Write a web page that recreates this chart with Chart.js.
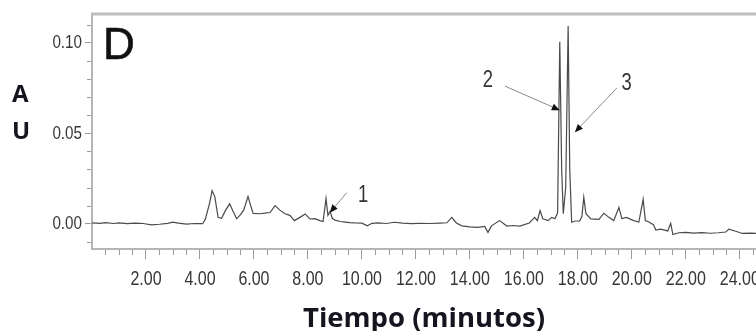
<!DOCTYPE html>
<html><head><meta charset="utf-8">
<script src="https://cdn.jsdelivr.net/npm/chart.js@4.4.1/dist/chart.umd.min.js"></script>
<style>
html,body{margin:0;padding:0;background:#fff;overflow:hidden;width:756px;height:331px;}
#wrap{position:relative;width:780px;height:331px;}
canvas{position:absolute;left:0;top:0;}
.lbl{position:absolute;font-family:"Open Sans",sans-serif;font-weight:700;color:#151520;line-height:1;}
#panel{position:absolute;left:103px;top:22px;font-family:"Liberation Sans",Arial,sans-serif;font-size:44px;color:#111;line-height:1;-webkit-text-stroke:0.6px #111;}
</style></head><body>
<div id="wrap">
<canvas id="c" width="780" height="331"></canvas>
<div class="lbl" style="left:12px;top:81px;font-size:24px;">A</div>
<div class="lbl" style="left:12px;top:118px;font-size:24px;">U</div>
<div id="panel">D</div>
</div>
<script>
// Retention time (min)
const times = [0.00,0.30,0.50,0.80,1.00,1.30,1.60,1.90,2.20,2.50,2.80,3.00,3.20,3.50,3.80,4.10,
 4.20,4.35,4.45,4.55,4.67,4.80,4.95,5.10,5.22,5.36,5.50,5.62,5.78,5.88,5.97,6.20,6.40,6.60,6.78,6.96,
 7.15,7.33,7.50,7.70,7.90,8.07,8.26,8.44,8.56,8.67,8.74,8.82,8.90,9.00,9.20,9.37,9.55,9.74,10.00,10.20,
 10.37,10.60,10.90,11.20,11.50,11.85,12.10,12.50,12.90,13.15,13.33,13.50,13.70,14.00,14.30,14.55,14.67,
 14.80,15.10,15.37,15.60,15.85,16.20,16.40,16.50,16.60,16.70,16.90,17.03,17.15,17.25,17.33,17.40,17.46,
 17.55,17.64,17.70,17.77,17.90,18.07,18.15,18.22,18.30,18.48,18.78,18.96,19.15,19.33,19.52,19.63,19.80,
 20.07,20.26,20.42,20.50,20.63,20.80,20.89,21.07,21.33,21.44,21.52,21.74,22.00,22.30,22.60,22.90,23.20,
 23.48,23.60,23.85,24.10,24.40,24.60];
// Absorbance (AU)
const absorbance = [0.0004,0.0002,0.0006,0.0001,0.0004,0.0000,0.0003,0.0001,-0.0006,-0.0003,0.0002,0.0009,0.0003,-0.0002,0.0001,0.0000,
 0.0025,0.0110,0.0183,0.0150,0.0035,0.0030,0.0075,0.0110,0.0070,0.0027,0.0050,0.0075,0.0150,0.0100,0.0057,0.0055,0.0058,0.0062,0.0100,0.0075,
 0.0055,0.0046,0.0017,0.0035,0.0054,0.0026,0.0028,0.0017,0.0012,0.0139,0.0046,0.0068,0.0030,0.0020,0.0012,0.0009,0.0006,0.0004,0.0003,-0.0012,
 0.0002,0.0005,0.0001,0.0008,0.0003,0.0000,0.0002,0.0001,0.0003,0.0005,0.0035,0.0004,-0.0012,-0.0018,-0.0020,-0.0015,-0.0048,
 -0.0012,0.0017,-0.0013,-0.0010,-0.0013,0.0004,0.0035,0.0017,0.0072,0.0027,0.0017,0.0035,0.0027,0.0060,0.1007,0.0300,0.0055,
 0.0200,0.1094,0.0300,0.0008,0.0015,0.0015,0.0040,0.0146,0.0055,0.0027,0.0024,0.0057,0.0035,0.0017,0.0090,0.0028,0.0035,
 0.0017,0.0009,0.0135,0.0017,0.0009,-0.0006,-0.0035,-0.0030,-0.0040,0.0002,-0.0060,-0.0050,-0.0048,-0.0052,-0.0049,-0.0053,-0.0050,
 -0.0046,-0.0030,-0.0042,-0.0054,-0.0052,-0.0054];
const xTickValues = [2,4,6,8,10,12,14,16,18,20,22,24];
const yTickValues = [0,0.05,0.10];
// Peak annotations (data coordinates)
const peakLabels = ['1','2','3'];
const peakTips = [[8.81,0.0061],[17.33,0.0628],[17.89,0.0506]];
const arrowTails = [[9.44,0.0172],[15.30,0.0761],[19.44,0.0750]];
const labelAnchors = [[10.04,0.0156],[14.67,0.0794],[19.81,0.0772]];

const X_MIN = 0, X_MAX = 24.6, Y_MIN = -0.014, Y_MAX = 0.116;
const NARROW_FONT = '"Liberation Sans",Arial,sans-serif';
const SQUEEZE = 0.8;

function narrowText(ctx, text, x, y, size, align) {
  ctx.save();
  ctx.font = size + 'px ' + NARROW_FONT;
  ctx.textAlign = align; ctx.textBaseline = 'middle';
  ctx.translate(x, y); ctx.scale(SQUEEZE, 1);
  ctx.fillText(text, 0, 0);
  ctx.restore();
}

const decor = {
  id: 'decor',
  afterDraw(chart) {
    const {ctx, chartArea: a, scales: {x, y}} = chart;
    ctx.save();
    // top frame line
    ctx.strokeStyle = '#bdbdbd'; ctx.lineWidth = 3;
    ctx.beginPath(); ctx.moveTo(a.left - 1, a.top); ctx.lineTo(chart.width, a.top); ctx.stroke();
    // minor ticks
    ctx.strokeStyle = '#9a9a9a'; ctx.lineWidth = 1;
    for (let v = 0.5; v <= X_MAX; v += 0.5) {
      if (Math.abs(v / 2 - Math.round(v / 2)) < 1e-6) continue;
      const px = Math.round(x.getPixelForValue(v)) + 0.5;
      ctx.beginPath(); ctx.moveTo(px, a.bottom + 1); ctx.lineTo(px, a.bottom + 6); ctx.stroke();
    }
    for (let k = -1; k <= 11; k++) {
      if (k % 5 === 0) continue;
      const py = Math.round(y.getPixelForValue(k / 100)) + 0.5;
      ctx.beginPath(); ctx.moveTo(a.left - 5, py); ctx.lineTo(a.left - 1, py); ctx.stroke();
    }
    // tick labels (condensed, at the scales' tick positions)
    ctx.fillStyle = '#363636';
    x.ticks.forEach(t => narrowText(ctx, t.value.toFixed(2), x.getPixelForValue(t.value), a.bottom + 30, 20, 'center'));
    y.ticks.forEach(t => narrowText(ctx, t.value.toFixed(2), a.left - 10, y.getPixelForValue(t.value), 19, 'right'));
    // annotations
    peakLabels.forEach((lab, i) => {
      const tx = x.getPixelForValue(peakTips[i][0]), ty = y.getPixelForValue(peakTips[i][1]);
      const sx = x.getPixelForValue(arrowTails[i][0]), sy = y.getPixelForValue(arrowTails[i][1]);
      ctx.strokeStyle = '#8a8a8a'; ctx.lineWidth = 1;
      ctx.beginPath(); ctx.moveTo(sx, sy); ctx.lineTo(tx, ty); ctx.stroke();
      const ang = Math.atan2(ty - sy, tx - sx), L = 8, W = 3.5;
      ctx.fillStyle = '#111';
      ctx.beginPath();
      ctx.moveTo(tx, ty);
      ctx.lineTo(tx - L * Math.cos(ang) + W * Math.sin(ang), ty - L * Math.sin(ang) - W * Math.cos(ang));
      ctx.lineTo(tx - L * Math.cos(ang) - W * Math.sin(ang), ty - L * Math.sin(ang) + W * Math.cos(ang));
      ctx.closePath(); ctx.fill();
      ctx.fillStyle = '#333';
      narrowText(ctx, lab, x.getPixelForValue(labelAnchors[i][0]), y.getPixelForValue(labelAnchors[i][1]), 23, 'center');
    });
    ctx.restore();
  }
};

new Chart(document.getElementById('c'), {
  type: 'scatter',
  data: {
    datasets: [{
      data: times.map((t, i) => ({x: t, y: absorbance[i]})),
      showLine: true, pointRadius: 0, borderColor: '#4a4a4a', borderWidth: 1.2, tension: 0, fill: false
    }]
  },
  options: {
    responsive: false, animation: false, devicePixelRatio: 1,
    layout: {padding: {left: 0, right: 24, top: 14, bottom: 0}},
    plugins: {legend: {display: false}, tooltip: {enabled: false}},
    scales: {
      x: {
        type: 'linear', min: X_MIN, max: X_MAX,
        afterBuildTicks: s => { s.ticks = xTickValues.map(v => ({value: v})); },
        afterFit: s => { s.height = 82; },
        ticks: {display: false},
        grid: {drawOnChartArea: false, drawTicks: true, tickLength: 10, tickColor: '#9a9a9a', tickWidth: 1},
        border: {display: true, color: '#b5b5b5', width: 2},
        title: {display: true, text: 'Tiempo (minutos)', color: '#151520',
                font: {family: '"Open Sans",sans-serif', weight: 'bold', size: 27.5, lineHeight: 1.0}, padding: {top: 0, bottom: -2}}
      },
      y: {
        type: 'linear', min: Y_MIN, max: Y_MAX,
        afterBuildTicks: s => { s.ticks = yTickValues.map(v => ({value: v})); },
        afterFit: s => { s.width = 92; },
        ticks: {display: false},
        grid: {drawOnChartArea: false, drawTicks: true, tickLength: 7, tickColor: '#9a9a9a', tickWidth: 1},
        border: {display: true, color: '#b5b5b5', width: 2}
      }
    }
  },
  plugins: [decor]
});
</script>
</body></html>
